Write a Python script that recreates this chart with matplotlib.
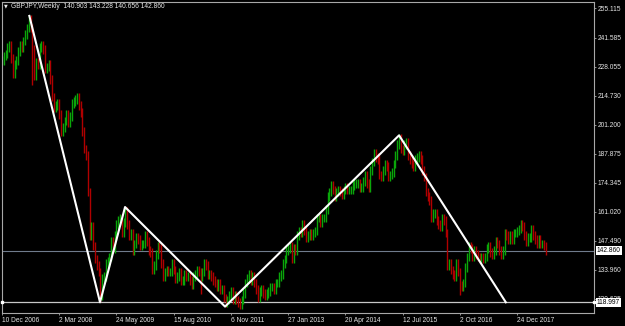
import numpy as np
import matplotlib
matplotlib.use("Agg")
import matplotlib.pyplot as plt
import matplotlib.transforms as mtransforms

plt.rcParams['font.family'] = ['Liberation Sans', 'DejaVu Sans']

# GBPJPY, one close every two weeks starting 10 Dec 2006
closes = [
    231, 233, 234, 237, 238, 232, 225, 229, 231, 235,
    238, 237, 240, 243, 246, 250, 246, 236, 224, 230,
    229, 237, 238, 236, 227, 228, 229, 222, 214, 209,
    210, 211, 206, 198, 200, 203, 206, 202, 205, 211,
    212, 213, 214, 210, 207, 198, 190, 187, 170, 150,
    154, 145, 139, 136, 133, 122, 130, 131, 137, 138,
    140, 147, 144, 150, 155, 157, 158, 151, 156, 161,
    155, 150, 151, 143, 146, 149, 148, 145, 146, 146,
    150, 147, 143, 142, 134, 136, 141, 145, 144, 137,
    131, 133, 134, 133, 133, 137, 134, 130, 131, 133,
    129, 129, 132, 131, 131, 129, 127, 131, 132, 134,
    133, 131, 133, 137, 136, 132, 132, 131, 129, 128,
    126, 128, 125, 125, 121, 119, 120, 122, 124, 120,
    122, 120, 119, 118, 120, 123, 128, 130, 132, 129,
    131, 128, 125, 121, 124, 125, 123, 122, 123, 124,
    126, 126, 125, 128, 128, 131, 132, 137, 139, 143,
    144, 145, 139, 144, 143, 150, 152, 151, 155, 152,
    149, 150, 151, 150, 151, 152, 158, 158, 156, 158,
    158, 162, 168, 170, 173, 171, 168, 170, 171, 170,
    169, 171, 172, 171, 171, 171, 173, 174, 174, 174,
    172, 172, 175, 178, 174, 172, 180, 184, 188, 186,
    185, 178, 177, 180, 183, 182, 177, 178, 179, 183,
    187, 192, 195, 190, 189, 192, 193, 187, 185, 183,
    182, 185, 186, 187, 185, 180, 177, 170, 168, 166,
    158, 160, 160, 157, 155, 154, 158, 157, 151, 136,
    137, 134, 132, 131, 137, 133, 127, 126, 128, 135,
    140, 145, 144, 140, 143, 141, 140, 139, 140, 139,
    140, 144, 145, 142, 141, 143, 147, 146, 143, 141,
    143, 151, 150, 148, 150, 148, 151, 151, 152, 153,
    155, 154, 150, 147, 149, 149, 153, 150, 148, 146,
    148, 146, 146, 145, 142.86,
]

# bars whose wick reaches further than the close-to-close range
spike_bars = [15, 17, 55, 69, 111, 125, 222, 256]
spike_prices = [251.5, 219.5, 119.0, 163.1, 123.0, 117.0, 196.3, 122.4]

# zigzag indicator
zz_bars = [15.3, 54.8, 68.8, 124.7, 222.0, 281.7]
zz_prices = [251.6, 118.997, 163.1, 117.0, 196.3, 118.997]

price_ticks = [255.115, 241.585, 228.055, 214.730, 201.200, 187.875,
               174.345, 161.020, 147.490, 133.960, 120.635]
date_bars = [0, 32, 64, 96, 128, 160, 192, 224, 256, 288]
date_labels = ['10 Dec 2006', '2 Mar 2008', '24 May 2009', '15 Aug 2010',
               '6 Nov 2011', '27 Jan 2013', '20 Apr 2014', '12 Jul 2015',
               '2 Oct 2016', '24 Dec 2017']

last_price = 142.860
level_price = 118.997
title = 'GBPJPY,Weekly  140.903 143.228 140.656 142.860'

fig = plt.figure(figsize=(6.25, 3.26), dpi=100, facecolor='black')
ax = fig.add_axes([2 / 625, 12.7 / 326, 592 / 625, 311.8 / 326])
ax.set_facecolor('black')

c = np.array(closes, dtype=float)
o = np.concatenate([[c[0]], c[:-1]])
x = np.arange(len(c))
pad = 2.0
lo = np.minimum(o, c) - pad
hi = np.maximum(o, c) + pad
for b, p in zip(spike_bars, spike_prices):
    lo[b] = min(lo[b], p)
    hi[b] = max(hi[b], p)
cols = np.where(c >= o, '#0aa60a', '#b00000')
ax.vlines(x, lo, hi, colors=cols, linewidth=1.0)

ax.axhline(last_price, color='#6f7b8c', lw=0.8, zorder=1)
ax.axhline(level_price, color='#c8c8c8', lw=0.9, zorder=1)
ax.plot(zz_bars, zz_prices, color='white', lw=1.5, zorder=3)

ax.set_xlim(0, 331)
ax.set_ylim(113.9, 258.26)

for s in ax.spines.values():
    s.set_color('#a8a8a8')
    s.set_linewidth(0.8)

ax.yaxis.tick_right()
ax.set_yticks(price_ticks)
ax.set_yticklabels([f'{v:.3f}' for v in price_ticks])
ax.set_xticks(date_bars)
ax.set_xticklabels(date_labels, ha='left')
ax.tick_params(axis='both', colors='#a8a8a8', labelcolor='#e4e4e4',
               labelsize=4.8, length=1.5, width=0.6, pad=1.2)
ax.tick_params(axis='x', pad=1.0)

trans = mtransforms.blended_transform_factory(ax.transAxes, ax.transData)
box = dict(boxstyle='square,pad=0.12', fc='white', ec='none')
ax.text(1.0 + 3 / 592, last_price, f'{last_price:.3f}', transform=trans,
        ha='left', va='center', fontsize=4.8, color='black', bbox=box,
        clip_on=False, zorder=5)
ax.text(1.0 + 3 / 592, level_price, f'{level_price:.3f}', transform=trans,
        ha='left', va='center', fontsize=4.8, color='black', bbox=box,
        clip_on=False, zorder=5)
ax.plot([0.0, 1.0], [level_price, level_price], 's', color='white',
        markersize=2.0, transform=trans, clip_on=False, zorder=5)

fig.text(4 / 625, 1 - 6 / 326, '\u25bc', fontsize=3.5, color='#e8e8e8',
         va='center', ha='left', family=['DejaVu Sans'])
fig.text(11 / 625, 1 - 6 / 326, title, fontsize=4.8, color='#e8e8e8',
         va='center', ha='left')

fig.savefig('out.png', dpi=100, facecolor='black')
